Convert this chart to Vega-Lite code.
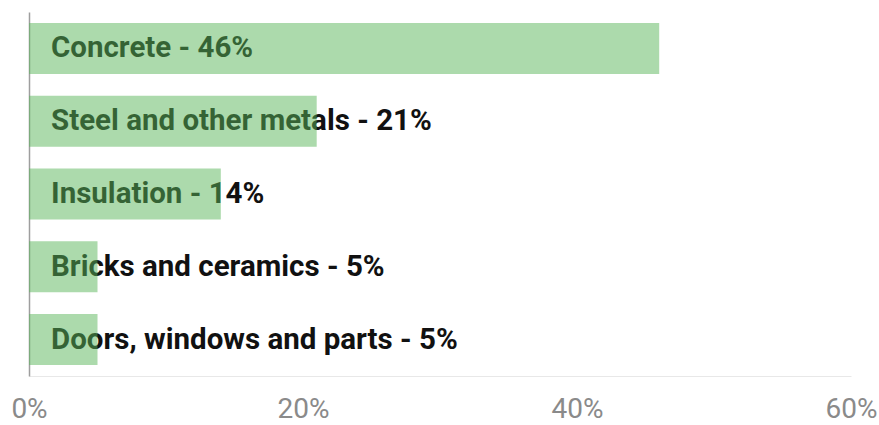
{
  "$schema": "https://vega.github.io/schema/vega-lite/v6.json",
  "width": 822,
  "height": 364,
  "autosize": {"type": "none"},
  "padding": {"left": 29, "top": 12, "right": 28, "bottom": 49},
  "background": "white",
  "config": {
    "view": {"stroke": null},
    "font": "Roboto"
  },
  "data": {
    "values": [
      {"material": "Concrete", "share": 0.46, "label": "Concrete - 46%"},
      {"material": "Steel and other metals", "share": 0.21, "label": "Steel and other metals - 21%"},
      {"material": "Insulation", "share": 0.14, "label": "Insulation - 14%"},
      {"material": "Bricks and ceramics", "share": 0.05, "label": "Bricks and ceramics - 5%"},
      {"material": "Doors, windows and parts", "share": 0.05, "label": "Doors, windows and parts - 5%"}
    ]
  },
  "encoding": {
    "y": {
      "field": "material",
      "type": "nominal",
      "sort": null,
      "scale": {"paddingInner": 0.3, "paddingOuter": 0.15},
      "axis": {
        "title": null,
        "labels": false,
        "ticks": false,
        "grid": false,
        "domainColor": "#9e9e9e",
        "domainWidth": 1.5
      }
    }
  },
  "layer": [
    {
      "mark": {
        "type": "text",
        "align": "left",
        "baseline": "middle",
        "dx": 22,
        "dy": 0,
        "fontSize": 29.5,
        "fontWeight": "bold",
        "font": "Roboto",
        "color": "#111111"
      },
      "encoding": {
        "x": {"datum": 0, "type": "quantitative"},
        "text": {"field": "label"}
      }
    },
    {
      "mark": {"type": "bar", "color": "#5ab55a", "opacity": 0.5},
      "encoding": {
        "x": {
          "field": "share",
          "type": "quantitative",
          "scale": {"domain": [0, 0.6], "nice": false},
          "axis": {
            "title": null,
            "format": ".0%",
            "values": [0, 0.2, 0.4, 0.6],
            "ticks": false,
            "labelFontSize": 28,
            "labelColor": "#8a8a8a",
            "labelPadding": 19,
            "labelFont": "Roboto",
            "gridColor": "#ececec",
            "domainColor": "#e8e8e8",
            "labelFlush": false
          }
        }
      }
    }
  ]
}
